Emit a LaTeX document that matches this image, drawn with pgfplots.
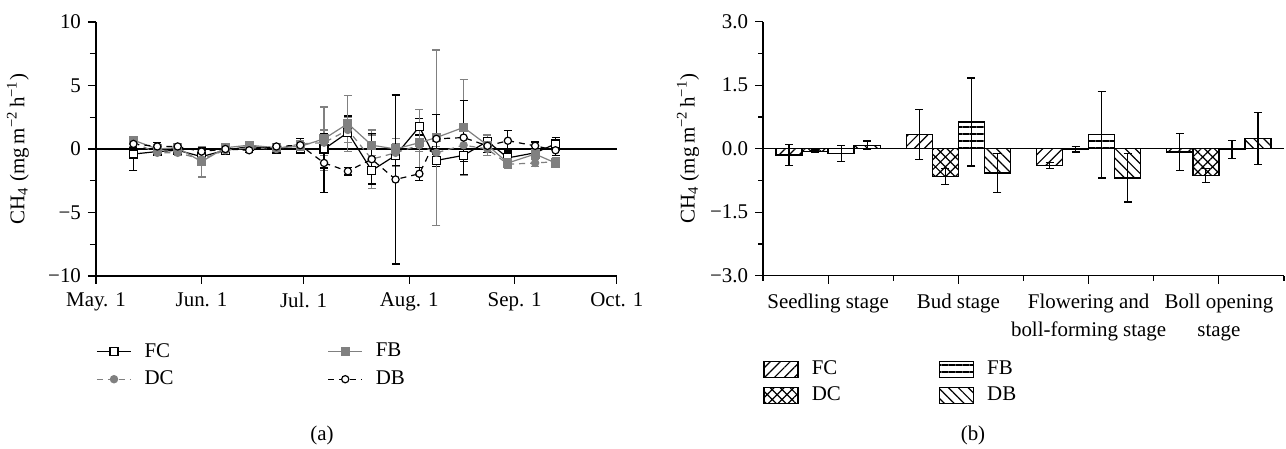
\documentclass[border=0pt]{standalone}
\usepackage{fontspec}
\setmainfont{Liberation Serif}
\usepackage{pgfplots}
\pgfplotsset{compat=1.18}
\usetikzlibrary{patterns.meta}
\newcommand\lbl{\fontsize{10.5}{12.6}\selectfont}
\definecolor{gry}{gray}{0.5}
\pgfplotsset{
  errb/.style={error bars/y dir=both, error bars/y explicit,
    error bars/error bar style={solid, line width=0.6bp},
    error bars/error mark options={rotate=90, mark size=2bp, solid, line width=0.6bp}},
  mybar/.style={ybar, bar width=0.2, bar shift=0, draw=black, line width=0.7bp,
    legend image code/.code={\draw[##1] (0bp,-4bp) rectangle (17bp,4bp);},
    error bars/y dir=both, error bars/y explicit,
    error bars/error bar style={black, line width=0.6bp},
    error bars/error mark options={rotate=90, mark size=2bp, black, line width=0.6bp}},
}
\begin{document}
\begin{tikzpicture}
\path[use as bounding box] (0,0) rectangle (643bp,224.5bp);

% (a) time series
\begin{axis}[
  at={(48bp,86.5bp)}, anchor=south west,
  width=260.4bp, height=127bp, scale only axis,
  xmin=0, xmax=153, ymin=-10, ymax=10,
  axis lines*=left, axis line style={line width=0.6bp},
  tick align=outside, tick style={black, line width=0.6bp},
  major tick length=4bp, minor tick length=3bp,
  xtick={0,31,61,92,123,153},
  xticklabels={May. 1, Jun. 1, Jul. 1, Aug. 1, Sep. 1, Oct. 1},
  ytick={-10,-5,0,5,10}, yticklabels={−10,−5,0,5,10},
  minor ytick={-7.5,-2.5,2.5,7.5},
  ticklabel style={font=\lbl},
  xticklabel style={yshift=-1bp},
  ylabel={CH\textsubscript{4} (mg\,m\textsuperscript{−2}\,h\textsuperscript{−1})},
  ylabel style={at={(axis description cs:-0.15,0.5)}, anchor=center, font=\lbl},
  legend columns=2, legend cell align=left,
  legend style={draw=none, fill=none, at={(axis description cs:0,-0.352)}, anchor=west,
    inner sep=0pt, row sep=1.4bp, font=\lbl,
    /tikz/every odd column/.append style={column sep=4.5bp},
    /tikz/column 2/.append style={column sep=75bp}},
  clip=false,
]
\addplot[black, line width=0.6bp, forget plot] coordinates {(0,0) (153,0)};
\addplot[black, line width=0.6bp, mark=square*, mark size=2bp, mark options={fill=white, solid}, errb]
coordinates {
(11,-0.4) +- (0,1.3) (18,-0.2) +- (0,0.3) (24,-0.1) +- (0,0.3) (31,-0.6) +- (0,0.5)
(38,-0.1) +- (0,0.3) (45,0.2) +- (0,0.3) (53,0.0) +- (0,0.2) (60,0.0) +- (0,0.3)
(67,0.0) +- (0,1.5) (74,1.3) +- (0,1.3) (81,-1.7) +- (0,1.0) (88,-0.5) +- (0,0.8)
(95,1.75) +- (0,0.65) (100,-0.9) +- (0,0.5) (108,-0.5) +- (0,0.5) (115,0.6) +- (0,0.5)
(121,-0.7) +- (0,0.4) (129,-0.3) +- (0,0.3) (135,0.4) +- (0,0.5)
};
\addlegendentry{FC}
\addplot[gry, line width=0.6bp, mark=square*, mark size=2bp, mark options={solid}, errb]
coordinates {
(11,0.7) +- (0,0.3) (18,0.0) +- (0,0.3) (24,0.1) +- (0,0.2) (31,-1.0) +- (0,1.2)
(38,0.1) +- (0,0.2) (45,0.3) +- (0,0.3) (53,0.1) +- (0,0.2) (60,0.2) +- (0,0.4)
(67,0.8) +- (0,2.5) (74,2.0) +- (0,2.2) (81,0.3) +- (0,0.8) (88,0.0) +- (0,0.4)
(95,0.5) +- (0,2.6) (100,0.9) +- (0,6.9) (108,1.7) +- (0,3.8) (115,0.3) +- (0,0.8)
(121,-1.1) +- (0,0.4) (129,-0.4) +- (0,0.4) (135,-1.1) +- (0,0.3)
};
\addlegendentry{FB}
\addplot[gry, line width=0.6bp, dash pattern=on 3bp off 2.5bp, mark=*, mark size=1.8bp, mark options={solid}, errb]
coordinates {
(11,0.5) +- (0,0.3) (18,-0.3) +- (0,0.2) (24,-0.3) +- (0,0.2) (31,-0.8) +- (0,0.4)
(38,-0.1) +- (0,0.2) (45,0.1) +- (0,0.2) (53,0.0) +- (0,0.2) (60,0.4) +- (0,0.3)
(67,0.5) +- (0,1.0) (74,1.5) +- (0,1.0) (81,-0.8) +- (0,2.3) (88,-0.3) +- (0,1.1)
(95,0.3) +- (0,0.5) (100,-0.3) +- (0,0.5) (108,0.3) +- (0,0.6) (115,0.0) +- (0,0.5)
(121,-1.2) +- (0,0.3) (129,-1.1) +- (0,0.3) (135,-1.0) +- (0,0.3)
};
\addlegendentry{DC}
\addplot[black, line width=0.6bp, dash pattern=on 3bp off 2.5bp, mark=*, mark size=1.8bp, mark options={fill=white, solid}, errb]
coordinates {
(11,0.4) +- (0,0.3) (18,0.2) +- (0,0.3) (24,0.2) +- (0,0.2) (31,-0.2) +- (0,0.3)
(38,0.0) +- (0,0.2) (45,-0.1) +- (0,0.2) (53,0.2) +- (0,0.2) (60,0.3) +- (0,0.5)
(67,-1.1) +- (0,2.3) (74,-1.75) +- (0,0.3) (81,-0.8) +- (0,2.0) (88,-2.4) +- (0,6.65)
(95,-1.95) +- (0,0.5) (100,0.8) +- (0,1.9) (108,0.9) +- (0,2.9) (115,0.25) +- (0,0.5)
(121,0.65) +- (0,0.8) (129,0.25) +- (0,0.3) (135,-0.1) +- (0,0.4)
};
\addlegendentry{DB}
\end{axis}

% (b) stage means; bars of FC, DC, FB, DB at stage -0.3, -0.1, +0.1, +0.3
\begin{axis}[
  at={(381.5bp,86.65bp)}, anchor=south west,
  width=260.5bp, height=127bp, scale only axis,
  xmin=0.5, xmax=4.5, ymin=-3, ymax=3,
  axis lines*=left, axis line style={line width=0.6bp},
  tick align=outside, tick style={black, line width=0.6bp},
  major tick length=4bp, minor tick length=2.5bp,
  xtick={1,2,3,4}, minor xtick={0.5,1.5,2.5,3.5,4.5},
  xticklabels={Seedling stage, Bud stage, {Flowering and\\boll-forming stage}, {Boll opening\\stage}},
  xticklabel style={align=center, yshift=-1.5bp, font=\fontsize{10.5}{14.2}\selectfont},
  ytick={-3,-1.5,0,1.5,3}, yticklabels={−3.0,−1.5,0.0,1.5,3.0},
  minor ytick={-2.25,-0.75,0.75,2.25},
  yticklabel style={font=\lbl},
  ylabel={CH\textsubscript{4} (mg\,m\textsuperscript{−2}\,h\textsuperscript{−1})},
  ylabel style={at={(axis description cs:-0.144,0.5)}, anchor=center, font=\lbl},
  legend columns=2, legend cell align=left,
  legend style={draw=none, fill=none, at={(axis description cs:0,-0.42)}, anchor=west,
    inner sep=0pt, row sep=0.6bp, font=\lbl,
    /tikz/every odd column/.append style={column sep=4.5bp},
    /tikz/column 2/.append style={column sep=47bp}},
  clip=false,
]
\addplot[black, line width=0.6bp, forget plot] coordinates {(0.5,0) (4.5,0)};
\addplot[mybar, pattern={Lines[angle=45,distance=3.5bp,line width=0.6bp]}]
coordinates {(0.7,-0.15) +- (0,0.25) (1.7,0.34) +- (0,0.59) (2.7,-0.39) +- (0,0.07) (3.7,-0.08) +- (0,0.43)};
\addlegendentry{FC}
\addplot[mybar, pattern={Lines[angle=0,distance=3.5bp,line width=0.6bp]}]
coordinates {(1.1,-0.11) +- (0,0.19) (2.1,0.63) +- (0,1.04) (3.1,0.33) +- (0,1.02) (4.1,-0.02) +- (0,0.22)};
\addlegendentry{FB}
\addplot[mybar, pattern={Hatch[angle=45,distance=3.5bp,line width=0.6bp]}]
coordinates {(0.9,-0.06) +- (0,0.03) (1.9,-0.66) +- (0,0.19) (2.9,-0.01) +- (0,0.07) (3.9,-0.63) +- (0,0.16)};
\addlegendentry{DC}
\addplot[mybar, pattern={Lines[angle=-45,distance=3.5bp,line width=0.6bp]}]
coordinates {(1.3,0.08) +- (0,0.1) (2.3,-0.57) +- (0,0.46) (3.3,-0.69) +- (0,0.57) (4.3,0.24) +- (0,0.61)};
\addlegendentry{DB}
\end{axis}

\node[font=\lbl] at (161bp,7bp) {(a)};
\node[font=\lbl] at (486.5bp,7bp) {(b)};
\end{tikzpicture}
\end{document}
